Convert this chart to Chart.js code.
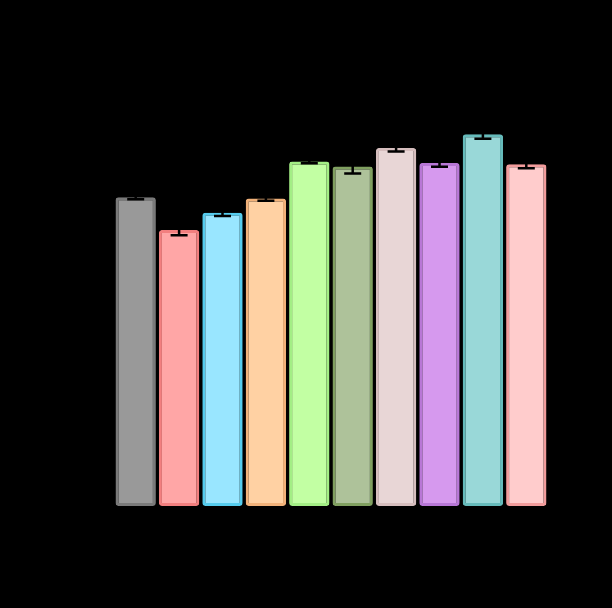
<!DOCTYPE html>
<html>
<head>
<meta charset="utf-8">
<style>
html,body{margin:0;padding:0;background:#000;}
#wrap{width:612px;height:608px;position:relative;}
</style>
<script src="https://cdn.jsdelivr.net/npm/chart.js@4"></script>
</head>
<body>
<div id="wrap"><canvas id="c" width="612" height="608"></canvas></div>
<script>
const categories = ["CK","1","5","6","7","8","11","12","14","18"];
const means = [43.3, 38.7, 41.1, 43.1, 48.3, 47.6, 50.2, 48.1, 52.1, 47.9];
const sds = [0.3, 0.75, 0.45, 0.3, 0.25, 1.0, 0.5, 0.55, 0.6, 0.55];
const fillColors = ["#999999","#FFA6A6","#99E6FF","#FFD1A3","#C2FFA3","#AEC29A","#E8D6D6","#D699EE","#99D8D8","#FFCCCC"];
const borderColors = ["#7A7A7A","#F27F7F","#55CCEE","#F2B27A","#A3EE85","#80A060","#D6BEBE","#B877D6","#66BBBB","#F29C9C"];
const yTicks = [0,10,20,30,40,50,60];
const yTitle = "%-NANEWcut";

const errorBars = {
  id: 'errorBars',
  afterDatasetsDraw(chart){
    const ctx = chart.ctx, meta = chart.getDatasetMeta(0), y = chart.scales.y;
    ctx.save();
    ctx.strokeStyle = '#000';
    ctx.lineWidth = 2.5;
    meta.data.forEach((bar,i)=>{
      const x = bar.x, hi = y.getPixelForValue(means[i]+sds[i]), lo = y.getPixelForValue(means[i]-sds[i]);
      const w = 8.5;
      ctx.beginPath();
      ctx.moveTo(x,hi); ctx.lineTo(x,lo);
      ctx.moveTo(x-w,hi); ctx.lineTo(x+w,hi);
      ctx.moveTo(x-w,lo); ctx.lineTo(x+w,lo);
      ctx.stroke();
    });
    ctx.restore();
  }
};

const labelsPlugin = {
  id: 'rotLabels',
  afterDraw(chart){
    const ctx = chart.ctx, y = chart.scales.y, x = chart.scales.x;
    ctx.save();
    ctx.fillStyle = '#000';
    ctx.font = '22px "Liberation Sans", Arial, sans-serif';
    ctx.textAlign = 'center';
    ctx.textBaseline = 'middle';
    yTicks.forEach(v=>{
      ctx.save();
      ctx.translate(62, y.getPixelForValue(v));
      ctx.rotate(-Math.PI/2);
      ctx.fillText(String(v),0,0);
      ctx.restore();
    });
    categories.forEach((c,i)=>{
      ctx.save();
      ctx.translate(x.getPixelForValue(i), 531);
      ctx.rotate(-Math.PI/2);
      ctx.fillText(c,0,0);
      ctx.restore();
    });
    ctx.save();
    ctx.translate(12, 290);
    ctx.rotate(-Math.PI/2);
    ctx.fillText(yTitle,0,0);
    ctx.restore();
    ctx.restore();
  }
};

new Chart(document.getElementById('c'), {
  type: 'bar',
  data: {
    labels: categories,
    datasets: [{
      data: means,
      backgroundColor: fillColors,
      borderColor: borderColors,
      borderWidth: 3,
      borderRadius: 3,
      borderSkipped: false,
      barPercentage: 0.93,
      categoryPercentage: 1.0
    }]
  },
  options: {
    responsive: false,
    animation: false,
    devicePixelRatio: 1,
    layout: { padding: { left: 114, right: 64, top: 78, bottom: 102 } },
    plugins: { legend: { display: false }, tooltip: { enabled: false } },
    scales: {
      x: { display: false },
      y: { display: false, min: 0, max: 60, ticks: { stepSize: 10 } }
    }
  },
  plugins: [errorBars, labelsPlugin]
});
</script>
</body>
</html>
